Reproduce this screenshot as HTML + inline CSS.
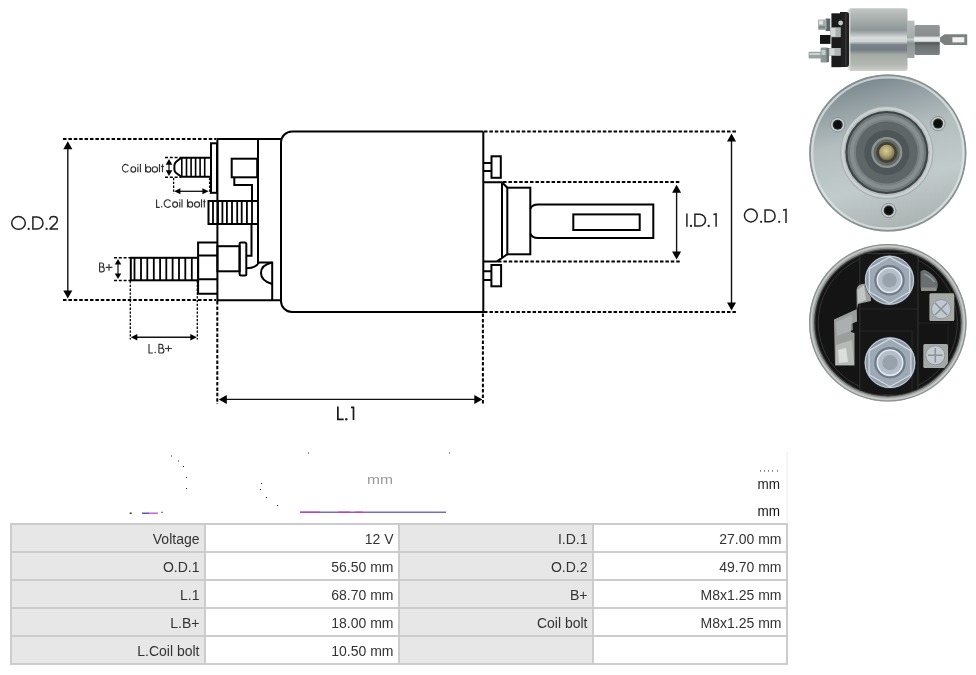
<!DOCTYPE html>
<html><head><meta charset="utf-8"><style>
html,body{margin:0;padding:0;background:#fff;width:976px;height:675px;overflow:hidden}
svg{position:absolute;left:0;top:0;will-change:transform}
</style></head><body>
<svg width="976" height="675" viewBox="0 0 976 675">
<g id="diagram">
<line x1="63" y1="139" x2="216" y2="139" stroke="#000" stroke-width="2" stroke-dasharray="3.5 1.9"/>
<line x1="63" y1="300" x2="216" y2="300" stroke="#000" stroke-width="2" stroke-dasharray="3.5 1.9"/>
<line x1="484" y1="131.6" x2="737" y2="131.6" stroke="#000" stroke-width="2" stroke-dasharray="3.5 1.9"/>
<line x1="484" y1="312.1" x2="737" y2="312.1" stroke="#000" stroke-width="2" stroke-dasharray="3.5 1.9"/>
<line x1="503" y1="182" x2="681" y2="182" stroke="#000" stroke-width="2" stroke-dasharray="3.5 1.9"/>
<line x1="498" y1="261.4" x2="681" y2="261.4" stroke="#000" stroke-width="2" stroke-dasharray="3.5 1.9"/>
<line x1="217.3" y1="301" x2="217.3" y2="404" stroke="#000" stroke-width="2" stroke-dasharray="3.5 1.9"/>
<line x1="482.9" y1="313.5" x2="482.9" y2="404" stroke="#000" stroke-width="2" stroke-dasharray="3.5 1.9"/>
<line x1="130.3" y1="281" x2="130.3" y2="339.5" stroke="#000" stroke-width="1.3" stroke-dasharray="2.3 1.5"/>
<line x1="197.3" y1="281" x2="197.3" y2="339.5" stroke="#000" stroke-width="1.3" stroke-dasharray="2.3 1.5"/>
<line x1="165" y1="157.5" x2="181" y2="157.5" stroke="#000" stroke-width="1.5" stroke-dasharray="3 1.8"/>
<line x1="165" y1="177.2" x2="181" y2="177.2" stroke="#000" stroke-width="1.5" stroke-dasharray="3 1.8"/>
<line x1="173.6" y1="178" x2="173.6" y2="193.5" stroke="#000" stroke-width="1.3" stroke-dasharray="2.3 1.5"/>
<line x1="209.6" y1="178" x2="209.6" y2="193.5" stroke="#000" stroke-width="1.3" stroke-dasharray="2.3 1.5"/>
<line x1="114" y1="257.8" x2="130.6" y2="257.8" stroke="#000" stroke-width="1.5" stroke-dasharray="3 1.8"/>
<line x1="114" y1="280.6" x2="130.6" y2="280.6" stroke="#000" stroke-width="1.5" stroke-dasharray="3 1.8"/>
<line x1="67.8" y1="148.2" x2="67.8" y2="291.5" stroke="#111" stroke-width="1.4"/><path d="M67.8 141.2 L63.3 149.2 L72.3 149.2Z" fill="#000"/><path d="M67.8 298.5 L63.3 290.5 L72.3 290.5Z" fill="#000"/>
<line x1="731.5" y1="140.5" x2="731.5" y2="303.5" stroke="#111" stroke-width="1.4"/><path d="M731.5 133.5 L727.0 141.5 L736.0 141.5Z" fill="#000"/><path d="M731.5 310.5 L727.0 302.5 L736.0 302.5Z" fill="#000"/>
<line x1="676.6" y1="191.8" x2="676.6" y2="252.60000000000002" stroke="#111" stroke-width="1.4"/><path d="M676.6 184.8 L672.1 192.8 L681.1 192.8Z" fill="#000"/><path d="M676.6 259.6 L672.1 251.60000000000002 L681.1 251.60000000000002Z" fill="#000"/>
<line x1="225.8" y1="399.4" x2="475.3" y2="399.4" stroke="#111" stroke-width="1.4"/><path d="M218.8 399.4 L226.8 394.9 L226.8 403.9Z" fill="#000"/><path d="M482.3 399.4 L474.3 394.9 L474.3 403.9Z" fill="#000"/>
<line x1="136.3" y1="337.2" x2="191.3" y2="337.2" stroke="#111" stroke-width="1.4"/><path d="M130.8 337.2 L137.3 333.95 L137.3 340.45Z" fill="#000"/><path d="M196.8 337.2 L190.3 333.95 L190.3 340.45Z" fill="#000"/>
<line x1="179.39999999999998" y1="191.3" x2="203.4" y2="191.3" stroke="#111" stroke-width="1.3"/><path d="M174.2 191.3 L180.39999999999998 188.3 L180.39999999999998 194.3Z" fill="#000"/><path d="M208.6 191.3 L202.4 188.3 L202.4 194.3Z" fill="#000"/>
<line x1="169" y1="163.70000000000002" x2="169" y2="171.2" stroke="#111" stroke-width="1.2"/><path d="M169 158.9 L165.7 164.70000000000002 L172.3 164.70000000000002Z" fill="#000"/><path d="M169 176 L165.7 170.2 L172.3 170.2Z" fill="#000"/>
<line x1="118" y1="263.5" x2="118" y2="274.5" stroke="#111" stroke-width="1.2"/><path d="M118 259 L114.75 264.5 L121.25 264.5Z" fill="#000"/><path d="M118 279 L114.75 273.5 L121.25 273.5Z" fill="#000"/>
<path d="M217.4 139 H281 M217.4 138 V301 M216.4 300.2 H281 M258 139 V262.4 H272.2 V300" stroke="#000" stroke-width="2" fill="none"/>
<path d="M483.3 131.6 H292 A11 11 0 0 0 281 142.6 V301 A11 11 0 0 0 292 312 H483.3 V131.6" stroke="#000" stroke-width="2" fill="none"/>
<rect x="211" y="143.3" width="6" height="49.5" stroke="#000" stroke-width="2" fill="none"/>
<path d="M210.8 157.7 H181.3 L176.2 161.8 Q174.4 163.4 174.4 165.6 V169.4 Q174.4 171.6 176.2 173 L181.3 176.7 H210.8" stroke="#000" stroke-width="2" fill="none"/>
<line x1="181.8" y1="158" x2="181.8" y2="177" stroke="#000" stroke-width="1.6"/>
<line x1="186.5" y1="158" x2="186.5" y2="177" stroke="#000" stroke-width="1.6"/>
<line x1="191.1" y1="158" x2="191.1" y2="177" stroke="#000" stroke-width="1.6"/>
<line x1="195.6" y1="158" x2="195.6" y2="177" stroke="#000" stroke-width="1.6"/>
<line x1="200.1" y1="158" x2="200.1" y2="177" stroke="#000" stroke-width="1.6"/>
<line x1="204.7" y1="158" x2="204.7" y2="177" stroke="#000" stroke-width="1.6"/>
<rect x="231.7" y="158.7" width="25.5" height="18.6" stroke="#000" stroke-width="2" fill="none"/>
<path d="M234.3 177.3 V185 H252 V201" stroke="#000" stroke-width="2" fill="none"/>
<rect x="208.5" y="201" width="49.5" height="23" stroke="#000" stroke-width="2" fill="none"/>
<line x1="213" y1="201" x2="213" y2="224" stroke="#000" stroke-width="1.8"/>
<line x1="218" y1="201" x2="218" y2="224" stroke="#000" stroke-width="1.8"/>
<line x1="222.4" y1="201" x2="222.4" y2="224" stroke="#000" stroke-width="1.8"/>
<line x1="226.9" y1="201" x2="226.9" y2="224" stroke="#000" stroke-width="1.8"/>
<line x1="232" y1="201" x2="232" y2="224" stroke="#000" stroke-width="1.8"/>
<line x1="237.2" y1="201" x2="237.2" y2="224" stroke="#000" stroke-width="1.8"/>
<line x1="241.7" y1="201" x2="241.7" y2="224" stroke="#000" stroke-width="1.8"/>
<line x1="246.9" y1="201" x2="246.9" y2="224" stroke="#000" stroke-width="1.8"/>
<line x1="252" y1="201" x2="252" y2="224" stroke="#000" stroke-width="1.8"/>
<path d="M217.4 242.4 H198.1 V293.8 H217.4 M198.1 255.5 H217.4 M198.1 279.2 H217.4" stroke="#000" stroke-width="2" fill="none"/>
<rect x="130.8" y="257.8" width="67.3" height="22.5" stroke="#000" stroke-width="2" fill="none"/>
<line x1="134.5" y1="258" x2="134.5" y2="280" stroke="#000" stroke-width="1.8"/>
<line x1="141" y1="258" x2="141" y2="280" stroke="#000" stroke-width="1.8"/>
<line x1="147.3" y1="258" x2="147.3" y2="280" stroke="#000" stroke-width="1.8"/>
<line x1="153.8" y1="258" x2="153.8" y2="280" stroke="#000" stroke-width="1.8"/>
<line x1="160.1" y1="258" x2="160.1" y2="280" stroke="#000" stroke-width="1.8"/>
<line x1="166.3" y1="258" x2="166.3" y2="280" stroke="#000" stroke-width="1.8"/>
<line x1="172.6" y1="258" x2="172.6" y2="280" stroke="#000" stroke-width="1.8"/>
<line x1="179" y1="258" x2="179" y2="280" stroke="#000" stroke-width="1.8"/>
<line x1="185.3" y1="258" x2="185.3" y2="280" stroke="#000" stroke-width="1.8"/>
<line x1="191.8" y1="258" x2="191.8" y2="280" stroke="#000" stroke-width="1.8"/>
<rect x="217.4" y="246.2" width="22.2" height="25.1" stroke="#000" stroke-width="2" fill="none"/>
<rect x="239.6" y="242.4" width="6.7" height="33" rx="1.5" stroke="#000" stroke-width="2" fill="none"/>
<path d="M251.5 224 V255.7 H246.3" stroke="#000" stroke-width="2" fill="none"/>
<path d="M246.3 268.3 Q256 268.3 259 262.4" stroke="#000" stroke-width="2" fill="none"/>
<path d="M272.2 262.6 Q261 265 261 273 Q261 281 272.2 284" stroke="#000" stroke-width="2" fill="none"/>
<path d="M483.3 163 H491.5 M483.3 171 H491.5" stroke="#000" stroke-width="2" fill="none"/><rect x="491.5" y="156.3" width="9.3" height="21.5" stroke="#000" stroke-width="2" fill="none"/>
<path d="M483.3 271.2 H491.4 M483.3 280 H491.4" stroke="#000" stroke-width="2" fill="none"/><rect x="491.4" y="265" width="9.7" height="21.3" stroke="#000" stroke-width="2" fill="none"/>
<path d="M483.3 182.2 H502 L507.3 187.7 M502 182.2 V258 M483.3 261.4 H497 L507.3 254.3" stroke="#000" stroke-width="2" fill="none"/>
<rect x="507.3" y="187.7" width="23" height="66.6" stroke="#000" stroke-width="2" fill="none"/>
<path d="M530.3 209 Q532 204.6 538 204.6 H653.3 V238 H538 Q532 238 530.3 233.7" stroke="#000" stroke-width="2" fill="none"/>
<rect x="573.3" y="214.4" width="66.4" height="15.6" stroke="#000" stroke-width="2" fill="none"/>
</g>
<g id="labels">

<ellipse cx="18.5" cy="222.95" rx="6.8" ry="6.4" fill="none" stroke="#222" stroke-width="1.5"/>
<circle cx="28.7" cy="228.9" r="1.15" fill="#222"/>
<path d="M32.9 217.1 H37.05 A5.950000000000003 5.950000000000003 0 0 1 37.05 229 H32.9 Z" fill="none" stroke="#222" stroke-width="1.5" stroke-linejoin="miter"/>
<circle cx="46.6" cy="228.9" r="1.15" fill="#222"/>
<path d="M49.8 219.8 C49.8 217.3 51.6 216.6 53.6 216.6 C56 216.6 57.3 218 57.3 219.9 C57.3 221.4 56.6 222.3 55.6 223.4 L49.9 229 H58.1" fill="none" stroke="#222" stroke-width="1.5" stroke-linejoin="round"/>
<path d="M686.9 213.5 V226.8" fill="none" stroke="#222" stroke-width="1.5"/>
<circle cx="691" cy="226" r="1.15" fill="#222"/>
<path d="M694.9 214.2 H699.6 A5.900000000000006 5.900000000000006 0 0 1 699.6 226 H694.9 Z" fill="none" stroke="#222" stroke-width="1.5" stroke-linejoin="miter"/>
<circle cx="708.7" cy="226" r="1.15" fill="#222"/>
<path d="M713.4 214.6 L716.1 213.9 V226.8" fill="none" stroke="#222" stroke-width="1.5"/>
<ellipse cx="750.85" cy="215.5" rx="6.4" ry="6.5" fill="none" stroke="#222" stroke-width="1.5"/>
<circle cx="761.1" cy="221.8" r="1.15" fill="#222"/>
<path d="M765.1 210.1 H769.3000000000001 A5.799999999999997 5.799999999999997 0 0 1 769.3000000000001 221.7 H765.1 Z" fill="none" stroke="#222" stroke-width="1.5" stroke-linejoin="miter"/>
<circle cx="779.2" cy="221.8" r="1.15" fill="#222"/>
<path d="M783 210.2 L786 209.4 V222.9" fill="none" stroke="#222" stroke-width="1.5"/>
<path d="M337.85 406.4 V419.4 H343.7" fill="none" stroke="#1a1a1a" stroke-width="1.7"/>
<circle cx="346.3" cy="419.3" r="1.2" fill="#222"/>
<path d="M351 407.4 H353.5 V420.1" fill="none" stroke="#1a1a1a" stroke-width="1.7"/>
<path d="M128.42 166.02 A3.3 3.8 0 1 0 128.42 170.48" fill="none" stroke="#333" stroke-width="1.15"/>
<ellipse cx="133.3" cy="169.4" rx="2.4" ry="2.65" fill="none" stroke="#333" stroke-width="1.15"/>
<path d="M137.9 166.6 V172.2" fill="none" stroke="#333" stroke-width="1.15"/>
<circle cx="137.9" cy="164.7" r="0.65" fill="#333"/>
<path d="M140.4 164 V172.2" fill="none" stroke="#333" stroke-width="1.15"/>
<path d="M145.55 164 V172.2" fill="none" stroke="#333" stroke-width="1.15"/>
<ellipse cx="148.3" cy="169.4" rx="2.5" ry="2.65" fill="none" stroke="#333" stroke-width="1.15"/>
<ellipse cx="154.9" cy="169.4" rx="2.65" ry="2.65" fill="none" stroke="#333" stroke-width="1.15"/>
<path d="M159.5 164 V172.2" fill="none" stroke="#333" stroke-width="1.15"/>
<path d="M162.5 164.3 V172.2 M161.0 166.5 H164.0" fill="none" stroke="#333" stroke-width="1.15"/>
<path d="M156.6 199.4 V207.3 H159.8" fill="none" stroke="#333" stroke-width="1.15"/>
<circle cx="161.7" cy="206.7" r="0.75" fill="#333"/>
<path d="M170.57 201.34 A3.55 3.85 0 1 0 170.57 205.86" fill="none" stroke="#333" stroke-width="1.15"/>
<ellipse cx="175.1" cy="204.6" rx="2.45" ry="2.7" fill="none" stroke="#333" stroke-width="1.15"/>
<path d="M179.75 201.8 V207.5" fill="none" stroke="#333" stroke-width="1.15"/>
<circle cx="179.75" cy="199.9" r="0.6" fill="#333"/>
<path d="M182.0 199.3 V207.5" fill="none" stroke="#333" stroke-width="1.15"/>
<path d="M187.5 199.3 V207.5" fill="none" stroke="#333" stroke-width="1.15"/>
<ellipse cx="190.3" cy="204.5" rx="2.4" ry="2.7" fill="none" stroke="#333" stroke-width="1.15"/>
<ellipse cx="197.05" cy="204.5" rx="2.5" ry="2.7" fill="none" stroke="#333" stroke-width="1.15"/>
<path d="M201.5 199.3 V207.5" fill="none" stroke="#333" stroke-width="1.15"/>
<path d="M204.3 199.6 V207.5 M202.9 201.7 H205.70000000000002" fill="none" stroke="#333" stroke-width="1.15"/>
<path d="M99.6 271.8 V263 H101.62 A1.9799999999999898 1.9799999999999898 0 0 1 101.62 266.96 H99.6 M101.62 266.96 H101.87999999999998 A2.420000000000016 2.420000000000016 0 0 1 101.87999999999998 271.8 H99.6" fill="none" stroke="#333" stroke-width="1.15" stroke-linejoin="miter"/>
<path d="M105.6 267.4 H112.4 M109 264.09999999999997 V270.7" fill="none" stroke="#333" stroke-width="1.15"/>
<path d="M149 344 V353 H152.9" fill="none" stroke="#333" stroke-width="1.15"/>
<circle cx="155.2" cy="352.5" r="0.75" fill="#333"/>
<path d="M158.9 353 V344.4 H160.965 A1.9350000000000023 1.9350000000000023 0 0 1 160.965 348.27 H158.9 M160.965 348.27 H161.535 A2.365000000000009 2.365000000000009 0 0 1 161.535 353 H158.9" fill="none" stroke="#333" stroke-width="1.15" stroke-linejoin="miter"/>
<path d="M165.0 348.5 H171.8 M168.4 345.6 V351.4" fill="none" stroke="#333" stroke-width="1.15"/>
</g>
<g id="photos">
<defs>
<linearGradient id="cyl" x1="0" y1="0" x2="0" y2="1">
<stop offset="0" stop-color="#c4c8c4"/>
<stop offset="0.06" stop-color="#b8bebb"/>
<stop offset="0.2" stop-color="#a4acaa"/>
<stop offset="0.35" stop-color="#8f9896"/>
<stop offset="0.42" stop-color="#b8bebe"/>
<stop offset="0.47" stop-color="#d8dcdc"/>
<stop offset="0.53" stop-color="#d0d4d4"/>
<stop offset="0.58" stop-color="#7a848a"/>
<stop offset="0.66" stop-color="#727c82"/>
<stop offset="0.74" stop-color="#a6aaa6"/>
<stop offset="0.9" stop-color="#b4b8b2"/>
<stop offset="0.96" stop-color="#c4c6c2"/>
<stop offset="1" stop-color="#d0d2ce"/>
</linearGradient>
<linearGradient id="plg" x1="0" y1="0" x2="0" y2="1">
<stop offset="0" stop-color="#949898"/>
<stop offset="0.36" stop-color="#888c8c"/>
<stop offset="0.4" stop-color="#c4c8c8"/>
<stop offset="0.43" stop-color="#eaeeee"/>
<stop offset="0.54" stop-color="#e2e6e6"/>
<stop offset="0.59" stop-color="#505658"/>
<stop offset="0.69" stop-color="#6a7070"/>
<stop offset="1" stop-color="#7e8484"/>
</linearGradient>
<linearGradient id="col" x1="0" y1="0" x2="0" y2="1">
<stop offset="0" stop-color="#b8bebe"/>
<stop offset="0.45" stop-color="#a4acac"/>
<stop offset="0.5" stop-color="#c8cece"/>
<stop offset="0.6" stop-color="#8a9294"/>
<stop offset="1" stop-color="#a0a6a6"/>
</linearGradient>
<linearGradient id="front" x1="0.3" y1="0" x2="0.55" y2="1">
<stop offset="0" stop-color="#74838a"/>
<stop offset="0.18" stop-color="#929ea2"/>
<stop offset="0.4" stop-color="#b4bebf"/>
<stop offset="0.7" stop-color="#c2cbcb"/>
<stop offset="1" stop-color="#aab2b2"/>
</linearGradient>
<radialGradient id="brass" cx="0.45" cy="0.4" r="0.6">
<stop offset="0" stop-color="#d8cc98"/>
<stop offset="0.6" stop-color="#ad9f6c"/>
<stop offset="1" stop-color="#6e6648"/>
</radialGradient>
<radialGradient id="bolt" cx="0.5" cy="0.5" r="0.5">
<stop offset="0" stop-color="#9aa6b0"/>
<stop offset="0.35" stop-color="#a6b0ba"/>
<stop offset="0.5" stop-color="#c2cad2"/>
<stop offset="0.58" stop-color="#8e9aa6"/>
<stop offset="0.85" stop-color="#a2aeb8"/>
<stop offset="1" stop-color="#7e8a94"/>
</radialGradient>
<clipPath id="inner3"><circle cx="887.8" cy="322.8" r="72.4"/></clipPath>
<linearGradient id="rim3" x1="0" y1="0" x2="0" y2="1">
<stop offset="0" stop-color="#a8adab"/>
<stop offset="1" stop-color="#a0a5a3"/>
</linearGradient>
</defs>
<rect x="848.5" y="8.3" width="59" height="62.7" rx="2.5" fill="url(#cyl)"/>
<rect x="848.5" y="9" width="2" height="61" fill="#dcdedc" opacity="0.7"/>
<rect x="907" y="20.7" width="7.5" height="37.3" fill="url(#col)"/>
<rect x="914.4" y="24.9" width="25.4" height="30.2" rx="1.5" fill="url(#plg)"/>
<path d="M940 37.5 L944.5 34.3 H967.2 V45 H944.5 L940 41.5Z" fill="#7c807e"/>
<rect x="952.4" y="37.2" width="11.9" height="5.2" fill="#f2f2f2"/>
<path d="M840 12 H846.5 Q849 12 849 15 V64 Q849 67 846.5 67 H840Z" fill="#202020"/>
<path d="M831.4 13.3 H841 V67.2 H831.4Z" fill="#1a1a1a"/>
<circle cx="840.6" cy="23" r="2.4" fill="#c4c8c8"/>
<rect x="845.5" y="13" width="0.8" height="53" fill="#4a4a4a"/>
<rect x="825.7" y="18.5" width="4.5" height="12.5" fill="#5a6464"/>
<rect x="818" y="19.5" width="8.5" height="10.4" rx="1" fill="#a4acac"/>
<rect x="819" y="20.5" width="4" height="4" fill="#dde2e2"/>
<rect x="819" y="26" width="6" height="2.5" fill="#7e8888"/>
<rect x="830" y="27.3" width="10.8" height="9.9" fill="#a8b0b0"/>
<rect x="830.5" y="28" width="5" height="8.5" fill="#d2d8d8"/>
<rect x="820" y="35" width="10.5" height="8.9" fill="#151515"/>
<rect x="808.6" y="51.7" width="12.5" height="6.7" rx="1" fill="#9aa2a2"/>
<rect x="809.5" y="53" width="11" height="2" fill="#cdd2d2"/>
<rect x="820.6" y="47.5" width="7.5" height="15.1" rx="1" fill="#8e9696"/>
<rect x="821.5" y="50" width="4" height="5" fill="#c4cccc"/>
<rect x="826.5" y="48" width="2.5" height="14" fill="#6a7474"/>
<rect x="828.9" y="48" width="11.9" height="7.8" fill="#b0b6b6"/>
<rect x="829.5" y="48.8" width="5" height="6.2" fill="#d0d6d6"/>
<circle cx="887.8" cy="153" r="78.6" fill="url(#front)"/>
<circle cx="887.8" cy="153" r="77.8" fill="none" stroke="#87918f" stroke-width="1.6"/>
<circle cx="887.8" cy="153" r="75.6" fill="none" stroke="#dfe5e5" stroke-width="2.2" opacity="0.75"/>
<circle cx="837.7" cy="124.8" r="7.2" fill="#c4cccc" stroke="#7f8889" stroke-width="0.8"/>
<circle cx="837.7" cy="124.8" r="5" fill="#262a2a"/>
<circle cx="837.7" cy="124.8" r="3.8" fill="#0e0e0e"/>
<circle cx="938" cy="123.6" r="7.2" fill="#c4cccc" stroke="#7f8889" stroke-width="0.8"/>
<circle cx="938" cy="123.6" r="5" fill="#262a2a"/>
<circle cx="938" cy="123.6" r="3.8" fill="#0e0e0e"/>
<circle cx="888.7" cy="210.5" r="7.2" fill="#c4cccc" stroke="#7f8889" stroke-width="0.8"/>
<circle cx="888.7" cy="210.5" r="5" fill="#262a2a"/>
<circle cx="888.7" cy="210.5" r="3.8" fill="#0e0e0e"/>
<circle cx="886.8" cy="152.5" r="46.5" fill="#a4acae"/>
<circle cx="886.8" cy="152.5" r="45.5" fill="#cbd1d1"/>
<circle cx="886.8" cy="152.5" r="43" fill="#b4bcbc"/>
<circle cx="886.8" cy="152.5" r="41.5" fill="#3c4446"/>
<circle cx="886.8" cy="152.5" r="39.4" fill="#70787a"/>
<circle cx="886.8" cy="152.5" r="37" fill="#868e8f"/>
<circle cx="886.8" cy="152.5" r="33" fill="#788081"/>
<circle cx="886.8" cy="152.5" r="31" fill="#5e6668"/>
<circle cx="886.8" cy="152.5" r="22.5" fill="#4e5658"/>
<circle cx="886.8" cy="152.5" r="15.5" fill="#8e9494"/>
<circle cx="886.8" cy="152.5" r="13.2" fill="#62685f"/>
<circle cx="886.8" cy="152.5" r="10.5" fill="#3e4238"/>
<circle cx="886.8" cy="152.5" r="7.8" fill="url(#brass)"/>
<circle cx="887.8" cy="322.8" r="78.8" fill="#b0b4b2"/>
<circle cx="887.8" cy="322.8" r="78.2" fill="none" stroke="#8e9290" stroke-width="1.2"/>
<circle cx="887.8" cy="322.8" r="76.6" fill="none" stroke="#dcdede" stroke-width="1.3" opacity="0.6"/>
<circle cx="887.8" cy="322.8" r="75" fill="#8a8e8c"/>
<circle cx="887.8" cy="322.8" r="73.6" fill="#3a3c3c"/>
<circle cx="887.8" cy="322.8" r="72.4" fill="#141414"/>
<circle cx="887.8" cy="322.8" r="69.5" fill="none" stroke="#3c3c3c" stroke-width="0.8"/>
<g clip-path="url(#inner3)">
<path d="M859.8 258 Q859.8 253.5 864 253.5 H914 Q918 253.5 918 258 V309 H918 V395 H859.8Z" fill="#161616" stroke="#3a3a3a" stroke-width="0.8"/>
<path d="M859.8 309 H918 M860 331 H912 V395" fill="none" stroke="#2c2c2c" stroke-width="0.8"/>
<path d="M918 323 H950 M948 325 V375" fill="none" stroke="#2a2a2a" stroke-width="0.8"/>
<path d="M920.5 271.5 Q922 269.5 925 270 Q931 272.5 936 279 Q938.5 283 937.5 287.5 Q937 290 934.5 290.5 H922 Q920.5 290 920.5 287Z" fill="#6a6e6e"/>
<path d="M921 287.5 H936.5 V291 H921Z" fill="#8e9088"/>
<path d="M924 274 Q930 276 934.5 282" stroke="#9ea2a2" stroke-width="1.6" fill="none" opacity="0.8"/>
<path d="M856.5 290 Q857 285 862 284 L870 283 L871 301 L858 304 L857 309 L834 319.5 L835 365.5 L854.5 365.5 L854.5 333 L851 332 L851 324 L857 321.5Z" fill="#9c9e9e"/>
<path d="M857.5 290 L864 285 L866 300 L858 303Z" fill="#c4c6c6"/>
<path d="M836 345 L852 340 L854 365 L836 365Z" fill="#b8bab8"/>
<path d="M838 350 L846 348 L848 362 L839 363Z" fill="#dcdedc"/>
<path d="M836 322 L852 315 L853 330 L837 336Z" fill="#b4b6b6" opacity="0.7"/>
<circle cx="889.5" cy="280.2" r="25.1" fill="#3a4046"/>
<circle cx="889.5" cy="280.2" r="24.5" fill="#8e9aa6"/>
<circle cx="889.5" cy="280.2" r="24.0" fill="none" stroke="#c8d2dc" stroke-width="1"/>
<polygon points="889.5,256.9 909.7,268.6 909.7,291.8 889.5,303.5 869.3,291.8 869.3,268.6" fill="#9ea9b5" stroke="#d0d9e2" stroke-width="1.3" stroke-linejoin="round"/>
<circle cx="889.5" cy="280.2" r="15.2" fill="#6e7a86"/>
<circle cx="889.5" cy="280.2" r="12.2" fill="#b4bec8" stroke="#e0e8ee" stroke-width="1.6"/>
<circle cx="889.5" cy="280.2" r="7.3" fill="#98a2ac"/>
<circle cx="890" cy="362.7" r="25.900000000000002" fill="#3a4046"/>
<circle cx="890" cy="362.7" r="25.3" fill="#8e9aa6"/>
<circle cx="890" cy="362.7" r="24.8" fill="none" stroke="#c8d2dc" stroke-width="1"/>
<polygon points="890.0,338.6 910.9,350.6 910.9,374.8 890.0,386.8 869.1,374.8 869.1,350.6" fill="#9ea9b5" stroke="#d0d9e2" stroke-width="1.3" stroke-linejoin="round"/>
<circle cx="890" cy="362.7" r="15.7" fill="#6e7a86"/>
<circle cx="890" cy="362.7" r="12.7" fill="#b4bec8" stroke="#e0e8ee" stroke-width="1.6"/>
<circle cx="890" cy="362.7" r="7.6" fill="#98a2ac"/>
<rect x="929.4" y="293.2" width="24.9" height="27.9" rx="1.5" fill="#a6aaa6"/>
<circle cx="941.2" cy="309.2" r="9.6" fill="#c0c8d0" stroke="#8e969e" stroke-width="1"/>
<path d="M935 303 L947 315 M947 303 L935 315" stroke="#8a9298" stroke-width="1.5"/>
<rect x="923.3" y="344" width="24.7" height="24" rx="1.5" fill="#a4a8a6"/>
<circle cx="935.3" cy="355.3" r="9.6" fill="#c4ccd2" stroke="#8e969e" stroke-width="1"/>
<path d="M935.3 348 V362.6 M928 355.3 H942.6" stroke="#8a9298" stroke-width="1.5"/>
</g>
</g>
<g id="art">
<rect x="129.7" y="512.6" width="2" height="1.2" fill="#000"/>
<rect x="142" y="512.6" width="7" height="1.2" fill="#3a2aa0"/>
<rect x="149" y="512.6" width="9" height="1.2" fill="#c040c0"/>
<rect x="161" y="511.8" width="2" height="1" fill="#a040b0"/>
<rect x="300" y="511.6" width="146" height="1.2" fill="#4a30b0" opacity="0.9"/>
<rect x="300" y="511.6" width="20" height="1.2" fill="#c040c0"/>
<rect x="338" y="511.6" width="12" height="1.2" fill="#c040c0"/>
<rect x="355" y="511.6" width="8" height="1.2" fill="#c040c0"/>
<text x="367" y="484" font-size="13" textLength="26" lengthAdjust="spacingAndGlyphs" font-family="Liberation Sans, sans-serif" fill="#777" opacity="0.75">mm</text>
<rect x="171" y="455.5" width="1" height="1" fill="#223"/>
<rect x="178" y="460.5" width="1" height="1" fill="#223"/>
<rect x="183" y="466" width="1" height="1" fill="#223"/>
<rect x="186" y="477" width="1" height="1" fill="#223"/>
<rect x="186" y="488" width="1" height="1" fill="#223"/>
<rect x="260" y="489" width="1" height="1" fill="#223"/>
<rect x="266" y="497" width="1" height="1" fill="#223"/>
<rect x="277" y="505" width="1" height="1" fill="#223"/>
<rect x="308" y="452.5" width="1" height="1" fill="#223"/>
<rect x="449" y="452.5" width="1" height="1" fill="#223"/>
<rect x="261" y="483" width="1" height="1" fill="#223"/>
<text x="757.5" y="488.5" font-size="14" textLength="22.5" lengthAdjust="spacingAndGlyphs" font-family="Liberation Sans, sans-serif" fill="#222">mm</text>
<text x="757.5" y="516.4" font-size="15" textLength="22.5" lengthAdjust="spacingAndGlyphs" font-family="Liberation Sans, sans-serif" fill="#111">mm</text>
<rect x="760" y="470.3" width="1" height="1.3" fill="#555"/>
<rect x="764" y="470.3" width="1" height="1.3" fill="#555"/>
<rect x="768" y="470.3" width="1" height="1.3" fill="#555"/>
<rect x="772" y="470.3" width="1" height="1.3" fill="#555"/>
<rect x="777" y="470.3" width="1" height="1.3" fill="#555"/>
<rect x="786.5" y="452" width="1" height="70" fill="#ddd" opacity="0.6"/>
</g>
<g id="table">
<rect x="10" y="523" width="778" height="142" fill="#cccccc"/>
<rect x="12" y="525" width="192" height="26" fill="#e7e7e7"/>
<text x="199.5" y="544" font-size="14" text-anchor="end" font-family="Liberation Sans, sans-serif" fill="#333">Voltage</text>
<rect x="206" y="525" width="192" height="26" fill="#ffffff"/>
<text x="393.5" y="544" font-size="14" text-anchor="end" font-family="Liberation Sans, sans-serif" fill="#333">12 V</text>
<rect x="400" y="525" width="192" height="26" fill="#e7e7e7"/>
<text x="587.5" y="544" font-size="14" text-anchor="end" font-family="Liberation Sans, sans-serif" fill="#333">I.D.1</text>
<rect x="594" y="525" width="192" height="26" fill="#ffffff"/>
<text x="781.5" y="544" font-size="14" text-anchor="end" font-family="Liberation Sans, sans-serif" fill="#333">27.00 mm</text>
<rect x="12" y="553" width="192" height="26" fill="#e7e7e7"/>
<text x="199.5" y="572" font-size="14" text-anchor="end" font-family="Liberation Sans, sans-serif" fill="#333">O.D.1</text>
<rect x="206" y="553" width="192" height="26" fill="#ffffff"/>
<text x="393.5" y="572" font-size="14" text-anchor="end" font-family="Liberation Sans, sans-serif" fill="#333">56.50 mm</text>
<rect x="400" y="553" width="192" height="26" fill="#e7e7e7"/>
<text x="587.5" y="572" font-size="14" text-anchor="end" font-family="Liberation Sans, sans-serif" fill="#333">O.D.2</text>
<rect x="594" y="553" width="192" height="26" fill="#ffffff"/>
<text x="781.5" y="572" font-size="14" text-anchor="end" font-family="Liberation Sans, sans-serif" fill="#333">49.70 mm</text>
<rect x="12" y="581" width="192" height="26" fill="#e7e7e7"/>
<text x="199.5" y="600" font-size="14" text-anchor="end" font-family="Liberation Sans, sans-serif" fill="#333">L.1</text>
<rect x="206" y="581" width="192" height="26" fill="#ffffff"/>
<text x="393.5" y="600" font-size="14" text-anchor="end" font-family="Liberation Sans, sans-serif" fill="#333">68.70 mm</text>
<rect x="400" y="581" width="192" height="26" fill="#e7e7e7"/>
<text x="587.5" y="600" font-size="14" text-anchor="end" font-family="Liberation Sans, sans-serif" fill="#333">B+</text>
<rect x="594" y="581" width="192" height="26" fill="#ffffff"/>
<text x="781.5" y="600" font-size="14" text-anchor="end" font-family="Liberation Sans, sans-serif" fill="#333">M8x1.25 mm</text>
<rect x="12" y="609" width="192" height="26" fill="#e7e7e7"/>
<text x="199.5" y="628" font-size="14" text-anchor="end" font-family="Liberation Sans, sans-serif" fill="#333">L.B+</text>
<rect x="206" y="609" width="192" height="26" fill="#ffffff"/>
<text x="393.5" y="628" font-size="14" text-anchor="end" font-family="Liberation Sans, sans-serif" fill="#333">18.00 mm</text>
<rect x="400" y="609" width="192" height="26" fill="#e7e7e7"/>
<text x="587.5" y="628" font-size="14" text-anchor="end" font-family="Liberation Sans, sans-serif" fill="#333">Coil bolt</text>
<rect x="594" y="609" width="192" height="26" fill="#ffffff"/>
<text x="781.5" y="628" font-size="14" text-anchor="end" font-family="Liberation Sans, sans-serif" fill="#333">M8x1.25 mm</text>
<rect x="12" y="637" width="192" height="26" fill="#e7e7e7"/>
<text x="199.5" y="656" font-size="14" text-anchor="end" font-family="Liberation Sans, sans-serif" fill="#333">L.Coil bolt</text>
<rect x="206" y="637" width="192" height="26" fill="#ffffff"/>
<text x="393.5" y="656" font-size="14" text-anchor="end" font-family="Liberation Sans, sans-serif" fill="#333">10.50 mm</text>
<rect x="400" y="637" width="192" height="26" fill="#e7e7e7"/>
<rect x="594" y="637" width="192" height="26" fill="#ffffff"/>
</g>
</svg>
</body></html>
